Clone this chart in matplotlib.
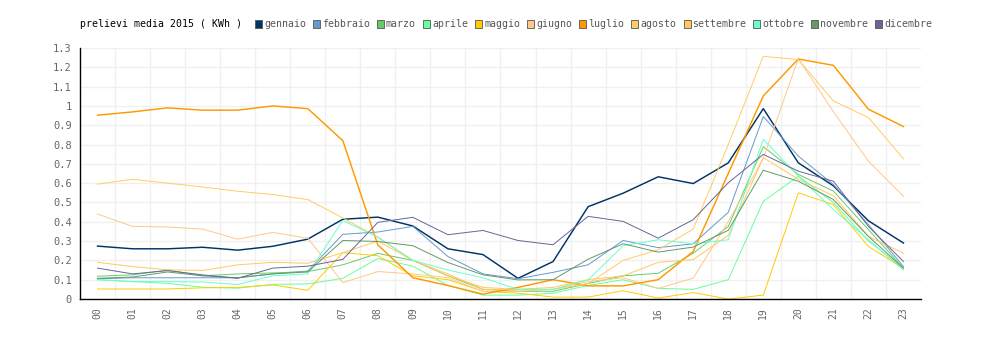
import numpy as np
import matplotlib
matplotlib.use("Agg")
import matplotlib.pyplot as plt
from matplotlib.patches import Rectangle

# ============================
# Data
# ============================
hours = ["%02d" % h for h in range(24)]

gennaio = [0.274, 0.26, 0.26, 0.268, 0.253, 0.273, 0.31, 0.413, 0.424, 0.378, 0.26, 0.23,
           0.107, 0.194, 0.478, 0.548, 0.633, 0.598, 0.705, 0.986, 0.705, 0.586, 0.405, 0.29]
febbraio = [0.105, 0.11, 0.11, 0.11, 0.11, 0.13, 0.145, 0.335, 0.347, 0.376, 0.22, 0.13,
            0.105, 0.138, 0.177, 0.303, 0.266, 0.286, 0.449, 0.945, 0.74, 0.593, 0.385, 0.168]
marzo = [0.118, 0.125, 0.15, 0.12, 0.13, 0.135, 0.142, 0.177, 0.236, 0.2, 0.12, 0.05,
         0.04, 0.04, 0.08, 0.12, 0.133, 0.237, 0.376, 0.789, 0.645, 0.559, 0.359, 0.159]
aprile = [0.1, 0.09, 0.081, 0.061, 0.056, 0.076, 0.078, 0.107, 0.21, 0.17, 0.07, 0.02,
          0.02, 0.03, 0.07, 0.1, 0.055, 0.05, 0.1, 0.506, 0.636, 0.5, 0.3, 0.16]
maggio = [0.052, 0.052, 0.052, 0.058, 0.06, 0.073, 0.045, 0.24, 0.224, 0.12, 0.1, 0.04,
          0.03, 0.01, 0.01, 0.043, 0.005, 0.033, 0.0, 0.02, 0.55, 0.489, 0.272, 0.159]
giugno = [0.44, 0.376, 0.373, 0.362, 0.31, 0.345, 0.315, 0.085, 0.142, 0.13, 0.11, 0.04,
          0.04, 0.05, 0.09, 0.11, 0.055, 0.108, 0.4, 0.73, 1.245, 0.97, 0.714, 0.532]
luglio = [0.952, 0.969, 0.99, 0.978, 0.978, 1.0, 0.986, 0.82, 0.28, 0.11, 0.07, 0.025,
          0.06, 0.1, 0.068, 0.068, 0.1, 0.246, 0.65, 1.052, 1.243, 1.21, 0.983, 0.893]
agosto = [0.595, 0.62, 0.6, 0.58, 0.558, 0.541, 0.515, 0.42, 0.32, 0.2, 0.13, 0.05,
          0.05, 0.05, 0.08, 0.2, 0.255, 0.362, 0.8, 1.257, 1.24, 1.026, 0.94, 0.726]
settembre = [0.19, 0.168, 0.151, 0.148, 0.177, 0.19, 0.185, 0.24, 0.3, 0.2, 0.12, 0.06,
             0.05, 0.06, 0.1, 0.12, 0.19, 0.204, 0.33, 0.732, 0.62, 0.535, 0.324, 0.237]
ottobre = [0.1, 0.09, 0.09, 0.088, 0.075, 0.12, 0.13, 0.407, 0.32, 0.2, 0.15, 0.11,
           0.05, 0.05, 0.099, 0.276, 0.307, 0.286, 0.307, 0.827, 0.636, 0.463, 0.307, 0.15]
novembre = [0.107, 0.114, 0.14, 0.12, 0.11, 0.13, 0.14, 0.303, 0.298, 0.276, 0.189, 0.125,
            0.099, 0.1, 0.206, 0.286, 0.243, 0.269, 0.356, 0.667, 0.61, 0.515, 0.324, 0.159]
dicembre = [0.16, 0.13, 0.147, 0.125, 0.107, 0.16, 0.17, 0.205, 0.397, 0.423, 0.333, 0.355,
            0.303, 0.281, 0.428, 0.402, 0.315, 0.411, 0.602, 0.749, 0.662, 0.61, 0.376, 0.194]

months = ["gennaio", "febbraio", "marzo", "aprile", "maggio", "giugno", "luglio",
          "agosto", "settembre", "ottobre", "novembre", "dicembre"]
series = [gennaio, febbraio, marzo, aprile, maggio, giugno, luglio,
          agosto, settembre, ottobre, novembre, dicembre]
colors = ["#003366", "#6699cc", "#66cc66", "#66ff99", "#ffcc00", "#ffc888", "#ff9900",
          "#ffcc66", "#ffc860", "#66ffcc", "#669966", "#666699"]

# ============================
# Figure
# ============================
plt.rcParams['font.family'] = ['DejaVu Sans Mono']
fig = plt.figure(figsize=(10, 3.4), dpi=100)
ax = fig.add_axes([0.08, 1 - 299 / 340, 0.841, 251 / 340])

x = np.arange(len(hours))
for name, vals, col in zip(months, series, colors):
    lw = 1.05 if name in ("gennaio", "luglio") else 0.7
    ax.plot(x, vals, color=col, linewidth=lw)

ax.set_xlim(-0.5, 23.5)
ax.set_ylim(0, 1.3)
ax.set_xticks(x)
ax.set_xticklabels(hours, rotation=90, fontsize=7, color='#666666')
yt = np.round(np.arange(0, 1.31, 0.1), 1)
ax.set_yticks(yt)
ax.set_yticklabels(["%g" % v for v in yt], fontsize=7.5, color='#666666')
ax.tick_params(length=0, pad=6)

# grid: horizontal at each tick, vertical between hours
ax.set_xticks(np.arange(0.5, 23.5, 1), minor=True)
ax.grid(True, axis='y', color='#f0f0f0', linewidth=1)
ax.grid(True, axis='x', which='minor', color='#f0f0f0', linewidth=1)
ax.tick_params(which='minor', length=0)
ax.set_axisbelow(True)
for s in ("top", "right"):
    ax.spines[s].set_visible(False)
for s in ("left", "bottom"):
    ax.spines[s].set_color('black')
    ax.spines[s].set_linewidth(1.0)

# ============================
# Title + legend row
# ============================
ytxt = 1 - 24 / 340
fig.text(80 / 1000, ytxt, "prelievi media 2015 ( KWh )", fontsize=7.1,
         color='black', va='center', ha='left')

char_w = 5.85
xc = 255
for name, col in zip(months, colors):
    fig.patches.append(Rectangle((xc / 1000, ytxt - 3.5 / 340), 7 / 1000, 7 / 340,
                                 transform=fig.transFigure, facecolor=col,
                                 edgecolor='#555555', linewidth=0.6))
    fig.text((xc + 9) / 1000, ytxt, name, fontsize=7.1, color='#555555',
             va='center', ha='left')
    xc = xc + 9 + len(name) * char_w + 8

fig.savefig("out.png", dpi=100)
